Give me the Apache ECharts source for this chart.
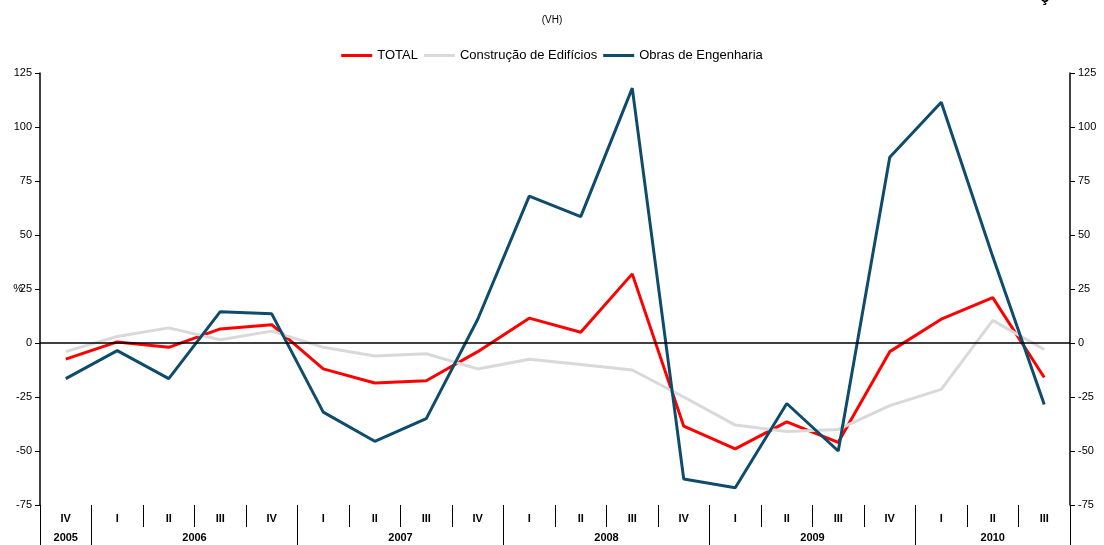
<!DOCTYPE html>
<html>
<head>
<meta charset="utf-8">
<script src="https://cdn.jsdelivr.net/npm/echarts@6/dist/echarts.min.js"></script>
<style>
html,body{margin:0;padding:0;background:#fff;}
#main{width:1104px;height:545px;}
</style>
</head>
<body>
<div id="main"></div>
<script>
// trimestres (eixo x)
var quarters = ['IV','I','II','III','IV','I','II','III','IV','I','II','III','IV','I','II','III','IV','I','II','III'];
var years = ['2005','2006','2007','2008','2009','2010'];
var quartersPerYear = [1,4,4,4,4,3];

// valores (%)
var total = [-7.5,0.5,-2,6.5,8.5,-12,-18.5,-17.5,-4,11.5,5,32,-38.5,-49,-36.5,-46,-4,11,21,-16];
var edificios = [-4,3,7,1.5,5.5,-2,-6,-5,-12,-7.5,-10,-12.5,-25,-38,-41,-40,-29,-21.5,10.5,-3];
var engenharia = [-16.5,-3.5,-16.5,14.5,13.5,-32,-45.5,-35,11,68,58.5,118,-63,-67,-28,-50,86,111.5,40,-28.5];

// eixo dos anos: meio-trimestres (41 pontos)
var yearSlots = [], yearTicks = [0], yearLabelIdx = [];
for (var i = 0; i <= quarters.length * 2; i++) yearSlots.push('');
var pos = 0;
for (var k = 0; k < years.length; k++) {
  var mid = pos * 2 + quartersPerYear[k];
  yearSlots[mid] = years[k];
  yearLabelIdx.push(mid);
  pos += quartersPerYear[k];
  yearTicks.push(pos * 2);
}

var font = 'Liberation Sans, Arial, sans-serif';
var myChart = echarts.init(document.getElementById('main'));

var yAxisBase = {
  type: 'value', min: -75, max: 125, interval: 25,
  splitLine: {show: false},
  axisLine: {show: true, lineStyle: {color: '#000', width: 1.5}},
  axisTick: {show: true, length: 5, lineStyle: {color: '#000'}},
  axisLabel: {color: '#000', fontSize: 11, fontFamily: font, margin: 8}
};

var option = {
  animation: false,
  backgroundColor: '#fff',
  title: {
    text: '(VH)', left: 'center', top: 10,
    textStyle: {fontSize: 10, fontWeight: 'normal', color: '#000', fontFamily: font}
  },
  graphic: [{
    type: 'text', left: 1040, top: -11,
    style: {text: 'ç', fontSize: 17, fontWeight: 'bold', fill: '#000', fontFamily: font}
  }],
  legend: {
    top: 44, left: 'center',
    icon: 'rect', itemWidth: 31, itemHeight: 3, itemGap: 6,
    textStyle: {fontSize: 13, color: '#000', fontFamily: font},
    data: ['TOTAL', 'Construção de Edifícios', 'Obras de Engenharia']
  },
  grid: {left: 40, right: 34, top: 73, bottom: 40, containLabel: false, outerBoundsMode: 'none'},
  xAxis: [{
    type: 'category', data: quarters, position: 'bottom',
    boundaryGap: true,
    axisLine: {show: false, onZero: false},
    axisTick: {show: true, interval: 0, length: 22, lineStyle: {color: '#000'}},
    axisLabel: {interval: 0, fontSize: 11, fontWeight: 'bold', color: '#000', fontFamily: font, margin: 8}
  }, {
    type: 'category', data: yearSlots, position: 'bottom',
    boundaryGap: false,
    axisLine: {show: false, onZero: false},
    axisTick: {
      show: true, length: 42, lineStyle: {color: '#000'},
      interval: function (idx) { return yearTicks.indexOf(idx) >= 0; }
    },
    axisLabel: {
      fontSize: 11, fontWeight: 'bold', color: '#000', fontFamily: font, margin: 27,
      interval: function (idx) { return yearLabelIdx.indexOf(idx) >= 0; }
    }
  }],
  yAxis: [
    Object.assign({}, yAxisBase, {
      position: 'left', name: '%', nameLocation: 'middle', nameGap: 17, nameRotate: 0,
      nameMoveOverlap: false,
      nameTextStyle: {fontSize: 11, color: '#000', fontFamily: font, padding: [0, 0, 16, 0]}
    }),
    Object.assign({}, yAxisBase, {position: 'right'})
  ],
  series: [{
    name: 'TOTAL', type: 'line', data: total, symbol: 'none',
    lineStyle: {color: '#ff0000', width: 3}, itemStyle: {color: '#ff0000'},
    markLine: {
      silent: true, symbol: 'none', label: {show: false},
      lineStyle: {color: '#000', width: 1.5, type: 'solid'},
      data: [{yAxis: 0}]
    }
  }, {
    name: 'Construção de Edifícios', type: 'line', data: edificios, symbol: 'none',
    lineStyle: {color: '#d9d9d9', width: 3}, itemStyle: {color: '#d9d9d9'}
  }, {
    name: 'Obras de Engenharia', type: 'line', data: engenharia, symbol: 'none',
    lineStyle: {color: '#0f4c6c', width: 3}, itemStyle: {color: '#0f4c6c'}
  }]
};

myChart.setOption(option);
</script>
</body>
</html>
